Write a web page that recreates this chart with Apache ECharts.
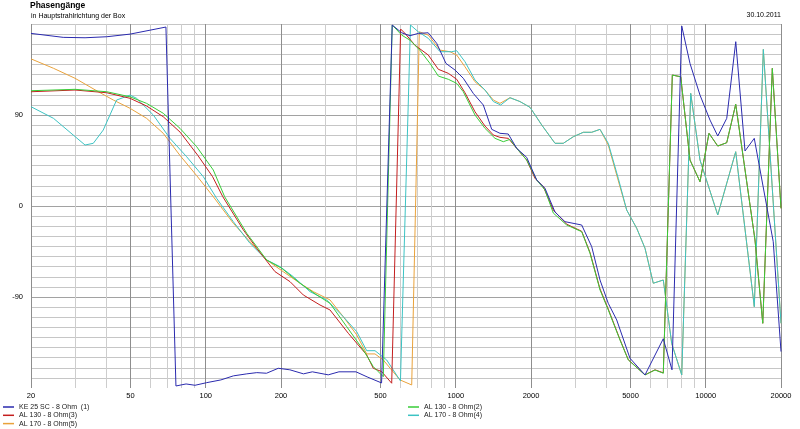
<!DOCTYPE html>
<html>
<head>
<meta charset="utf-8">
<title>Phasengänge</title>
<script src="https://cdn.jsdelivr.net/npm/echarts@6/dist/echarts.min.js"></script>
<style>
    html, body { margin: 0; padding: 0; background: #fff; }
    #chart { width: 800px; height: 429px; }
</style>
</head>
<body>
<div id="chart"></div>
<script>
// Achsenraster
var majorHz = [20, 50, 100, 200, 500, 1000, 2000, 5000, 10000, 20000];
var minorHz = [30, 40, 60, 70, 80, 90, 300, 400, 600, 700, 800, 900,
    3000, 4000, 6000, 7000, 8000, 9000];
var phaseLabels = [-90, 0, 90];

// KE 25 SC - 8 Ohm (1)
var ke25Hz = [20, 26.9, 32.9, 40.2, 49.8, 69.3, 76, 83.4, 90.6, 100.9, 115, 129, 146, 160, 175,
    195, 217, 246, 267, 309, 341, 399, 442, 505, 557, 608, 656, 708, 776, 839, 914, 993, 1072,
    1175, 1289, 1393, 1503, 1622, 1754, 1922, 2108, 2275, 2495, 2735, 3190, 3498, 3776, 4074,
    4404, 4977, 5716, 6762, 7328, 8017, 8650, 9484, 10400, 11170, 12134, 13184, 14356, 15634,
    18620, 20000];
var ke25Ph = [170.7, 166.8, 166.4, 167.4, 170, 177, -178, -176, -177.3, -174.7, -172, -168, -166,
    -164.8, -165.4, -160.5, -162, -166, -164, -167, -164, -164, -169, -175, 179, 171.3, 168.4,
    170.7, 171.3, 160.9, 141, 134.5, 126.3, 111.4, 99.9, 75.8, 71.9, 71.2, 57, 48.1, 25.7, 17.5,
    -6, -15.5, -18.8, -40.2, -73.2, -96.2, -112.7, -150.6, -167.1, -131.3, -162, 178, 141, 109.7,
    85, 69.2, 86.7, 162.5, 54.4, 66.9, -35.3, -144];

// AL 130 - 8 Ohm(2)
var al130aHz = [20, 30, 40.2, 49.8, 58, 67.6, 78.9, 92, 107.2, 119, 145.9, 175.3, 201.3, 238.2,
    278, 314, 366.3, 426.8, 468, 513, 557, 608, 656, 719, 789, 852, 934, 1009, 1072, 1194, 1309,
    1436, 1550, 1648, 1754, 1922, 2108, 2275, 2456, 2778, 3190, 3444, 3776, 4075, 4539, 4900,
    5716, 6266, 6765, 7350, 7942, 8650, 9484, 10304, 11168, 12132, 13178, 15740, 16906, 18464,
    20000];
var al130aPh = [114, 115.4, 113, 108, 101.5, 91.7, 76.8, 58.6, 35.6, 9.2, -27, -53.4, -61.6,
    -76.4, -88, -96.2, -119.3, -142.4, -158.9, -168.8, 179, 169, 164, 154, 141, 128.5, 125.3,
    121.3, 113, 90, 76.8, 66.9, 63.6, 65.9, 57, 45.5, 25.7, 15.8, -7, -18.8, -25.4, -46.8, -83,
    -102.8, -132.5, -152.3, -167.1, -162.2, -165.4, 129.5, 127.8, 45.5, 24, 71.9, 59.3, 62.6,
    100.6, -33.6, -116, 136.1, -2.3];

// AL 130 - 8 Ohm(3)
var al130bHz = [20, 30, 40.2, 49.8, 58, 67.6, 79, 93, 106.5, 117, 141.4, 159.9, 189.2, 217.3,
    245.6, 286.4, 314, 371.8, 440.4, 468, 505.4, 554.4, 602, 626.6, 687, 776.6, 851.8, 934, 1009,
    1089, 1194, 1309, 1414, 1503, 1623, 1754, 1922, 2075, 2240, 2456, 2778, 3190, 3444, 3776,
    4075, 4539, 4900, 5716, 6266, 6765, 7350, 7942, 8650, 9484, 10304, 11168, 12132, 13178,
    15740, 16906, 18464, 20000];
var al130bPh = [113, 114.7, 112, 106.5, 98.9, 88.3, 73, 50, 29, 9.2, -23.7, -41.8, -64.9, -74.8,
    -88, -97.9, -102.8, -125.9, -147.3, -160.5, -163.8, -175.3, 175, 170.7, 159, 149.3, 135.2,
    131.2, 125.3, 112, 93.2, 79.1, 70.2, 67.9, 66.9, 57, 45.5, 27.4, 19.1, -4, -18, -25, -46, -82,
    -102, -132, -152, -167, -162, -165, 129.5, 127.8, 45.5, 24, 71.9, 59.3, 62.6, 100.6, -33.6,
    -116, 136.1, -2.3];

// AL 170 - 8 Ohm(4)
var al170aHz = [20, 24.6, 32.9, 35.5, 38.9, 44, 49.8, 52.9, 61.7, 71.9, 83.9, 97.8, 110.6, 128.9,
    150.3, 175.3, 198.2, 224, 261.2, 304.6, 355, 401.8, 440.4, 475.4, 529.4, 601, 659, 708,
    776.6, 865, 963.4, 1009, 1089, 1194, 1309, 1414, 1513, 1648, 1807, 1982, 2208, 2495, 2693,
    2952, 3238, 3498, 3776, 4075, 4469, 4828, 5294, 5716, 6169, 6765, 7309, 8017, 8707, 9484,
    11168, 13178, 15640, 16998, 20000];
var al170aPh = [98.2, 86.7, 60.3, 62, 75.1, 104.8, 109.7, 106.5, 90, 66.9, 48.7, 29, 7.5, -15.5,
    -36.9, -53.4, -60, -69.9, -84.7, -92.9, -109.5, -124.3, -143.1, -143.1, -152.3, -173, 179,
    172.3, 165.8, 152.6, 152.6, 153.6, 142.7, 124.6, 114.7, 103.3, 99.9, 107.1, 103.3, 97.6,
    80.1, 62, 62, 68.5, 72.9, 72.9, 75.8, 62, 27.4, -4, -22, -41.8, -76.4, -73.2, -136, -167.1,
    111.4, 45.5, -8.9, 53.7, -99.6, 154.9, -116];

// AL 170 - 8 Ohm(5)
var al170bHz = [20, 24.6, 30, 37.2, 42.7, 49.8, 58, 67.6, 78.9, 92, 107.2, 128.9, 150.3, 175.3,
    204.3, 238.2, 269.4, 314, 355, 401.8, 440.4, 475.4, 513, 598.4, 666.6, 714.8, 776.6, 865,
    948.4, 1009, 1089, 1194, 1309, 1414, 1503, 1648, 1807, 1982, 2208, 2495, 2693, 2952, 3238,
    3498, 3776, 4075, 4539, 4828, 5294, 5716, 6169, 6765, 7309, 8017, 8707, 9484, 11168, 13178,
    15640, 16998, 20000];
var al170bPh = [145.5, 136.2, 126.3, 113, 104.8, 96.6, 86.7, 71.9, 50, 30, 9.2, -17.1, -35.3,
    -53.4, -65, -76.4, -84.7, -92.9, -109.5, -127.5, -146.3, -146.3, -152.3, -172, -177, 172.3,
    169, 154.2, 152.6, 149.3, 137.7, 122.9, 114.7, 104.8, 101.5, 107.1, 103.3, 97.6, 80.1, 62,
    62, 68.5, 72.9, 72.9, 75.8, 60.3, 19.1, -4, -22, -41.8, -76.4, -73.2, -136, -167.1, 111.4,
    45.5, -8.9, 53.7, -99.6, 154.9, -116];

var font = '"Liberation Sans", Arial, sans-serif';

function pairs(hz, ph) {
    return hz.map((f, i) => [f, ph[i]]);
}

function curve(name, color, hz, ph) {
    return {
        name: name,
        type: 'line',
        symbol: 'none',
        data: pairs(hz, ph),
        lineStyle: {width: 1, color: color},
        itemStyle: {color: color}
    };
}

var myChart = echarts.init(document.getElementById('chart'));

var option = {
    animation: false,
    textStyle: {fontFamily: font},
    title: [
        {text: 'Phasengänge', left: 30, top: 1, padding: 0,
            textStyle: {fontSize: 8.5, fontWeight: 'bold', color: '#000', fontFamily: font}},
        {text: 'in Hauptstrahlrichtung der Box', left: 31, top: 13, padding: 0,
            textStyle: {fontSize: 7, fontWeight: 'normal', color: '#000', fontFamily: font}},
        {text: '30.10.2011', right: 19, top: 12, padding: 0,
            textStyle: {fontSize: 7, fontWeight: 'normal', color: '#000', fontFamily: font}}
    ],
    legend: [{
        orient: 'vertical', left: 3, top: 403, padding: 0, itemGap: 0.3,
        itemWidth: 11, itemHeight: 1.5, icon: 'rect', selectedMode: false,
        textStyle: {fontSize: 7, lineHeight: 8, color: '#222'},
        data: ['KE 25 SC - 8 Ohm  (1)', 'AL 130 - 8 Ohm(3)', 'AL 170 - 8 Ohm(5)']
    }, {
        orient: 'vertical', left: 408, top: 403, padding: 0, itemGap: 0.3,
        itemWidth: 11, itemHeight: 1.5, icon: 'rect', selectedMode: false,
        textStyle: {fontSize: 7, lineHeight: 8, color: '#222'},
        data: ['AL 130 - 8 Ohm(2)', 'AL 170 - 8 Ohm(4)']
    }],
    grid: {left: 31, right: 19, top: 24, bottom: 41, outerBoundsMode: 'none'},
    xAxis: [{
        type: 'log', logBase: 10, min: 20, max: 20000,
        axisLine: {show: false},
        axisTick: {show: false, customValues: majorHz},
        axisLabel: {customValues: majorHz, fontSize: 7.5, color: '#000', margin: 4,
            formatter: v => String(Math.round(v))},
        splitLine: {show: true, lineStyle: {color: '#8e8e8e', width: 1}}
    }, {
        type: 'log', logBase: 10, min: 20, max: 20000, position: 'bottom',
        axisLine: {show: false},
        axisTick: {show: false, customValues: minorHz},
        axisLabel: {show: false},
        splitLine: {show: true, lineStyle: {color: '#cdcdcd', width: 1}}
    }],
    yAxis: [{
        type: 'value', min: -180, max: 180, interval: 10,
        axisLine: {show: false},
        axisTick: {show: false},
        axisLabel: {
            fontSize: 7.5, color: '#000', margin: 8,
            formatter: v => phaseLabels.indexOf(v) >= 0 ? String(v) : ''
        },
        splitLine: {show: true, showMinLine: false, lineStyle: {color: '#c6c6c6', width: 1}}
    }, {
        type: 'value', min: -180, max: 180, interval: 90, position: 'left',
        axisLine: {show: false},
        axisTick: {show: false},
        axisLabel: {show: false},
        splitLine: {show: true, showMinLine: false, showMaxLine: false,
            lineStyle: {color: '#a2a2a2', width: 1}}
    }],
    series: [
        curve('AL 170 - 8 Ohm(5)', '#e9a23b', al170bHz, al170bPh),
        curve('AL 170 - 8 Ohm(4)', '#3cc3c3', al170aHz, al170aPh),
        curve('AL 130 - 8 Ohm(3)', '#c41e1e', al130bHz, al130bPh),
        curve('AL 130 - 8 Ohm(2)', '#38cc38', al130aHz, al130aPh),
        curve('KE 25 SC - 8 Ohm  (1)', '#2a2aae', ke25Hz, ke25Ph)
    ]
};
myChart.setOption(option);
</script>
</body>
</html>
